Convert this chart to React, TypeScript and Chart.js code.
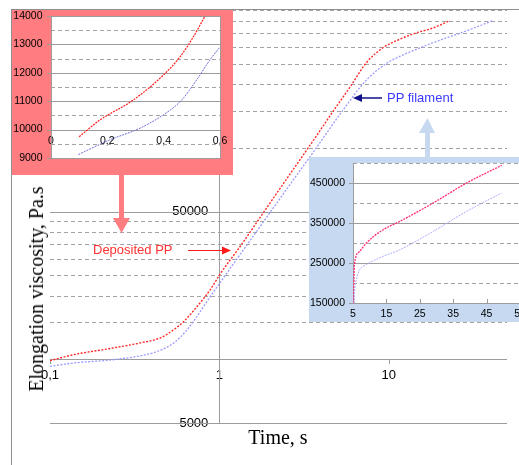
import React, { useEffect, useRef } from 'react';
import { Chart, registerables } from 'chart.js';
Chart.register(...registerables);

// ---------- main chart (log-log) ----------
const mainRedX = [0.1, 0.138, 0.218, 0.342, 0.45, 0.538, 0.616, 0.739, 0.885, 1.014, 1.33, 1.746, 2.29, 3.6, 4.72, 5.93, 7.4, 9.3, 11.7, 14.6, 18.3, 23];
const mainRedY = [9860, 10530, 11200, 11970, 12650, 13820, 15100, 17800, 21400, 25450, 34300, 47100, 64600, 109000, 150000, 195000, 254000, 299000, 328000, 351000, 370000, 401000];
const mainBlueX = [0.1, 0.138, 0.218, 0.342, 0.43, 0.538, 0.645, 0.739, 0.885, 1.085, 1.91, 2.62, 3.6, 5.4, 7.4, 9.74, 11.7, 18.3, 28.9, 41.4];
const mainBlueY = [9260, 9620, 9900, 10400, 10900, 11960, 13800, 16000, 19850, 25000, 47200, 67400, 96000, 152000, 210000, 252000, 272000, 315000, 359000, 401000];
const mainXTicks = [0.1, 1, 10];
const mainYLabels = [5000, 50000];
const mainYMinor = [15000, 20000, 25000, 30000, 35000, 40000, 45000, 100000, 150000, 200000, 250000, 300000, 350000, 400000, 450000];

// ---------- inset 1 (early times, linear) ----------
const in1RedX = [0.1, 0.174, 0.292, 0.399, 0.458, 0.505, 0.547];
const in1RedY = [9750, 10340, 11040, 11920, 12560, 13260, 14000];
const in1BlueX = [0.097, 0.209, 0.316, 0.399, 0.464, 0.517, 0.564, 0.6];
const in1BlueY = [9120, 9640, 10050, 10520, 11040, 11750, 12450, 12910];
const in1XTicks = [0, 0.2, 0.4, 0.6];
const in1YTicks = [9000, 10000, 11000, 12000, 13000, 14000];
const in1YMinor = [9500, 10500, 11500, 12500, 13500];

// ---------- inset 2 (late times, linear) ----------
const in2RedX = [5.2, 5.3, 5.5, 7, 9, 14, 19, 29, 39, 49.5];
const in2RedY = [150000, 216000, 250000, 279000, 300000, 333000, 354000, 400000, 450000, 494000];
const in2BlueX = [5.3, 5.6, 6, 7, 9, 14, 19, 29, 39, 49.5];
const in2BlueY = [150000, 190000, 208000, 233000, 246000, 266500, 283000, 329000, 379000, 425000];
const in2XTicks = [5, 15, 25, 35, 45, 55];
const in2YTicks = [150000, 250000, 350000, 450000];
const in2YMinor = [200000, 300000, 400000, 500000];

const PINK = '#ff7c80';
const LIGHTBLUE = '#c6d9f1';
const GRID_SOLID = '#9c9c9c';
const GRID_DASH = '#a3a3a3';
const SANS = "'Liberation Sans', Arial, sans-serif";
const SERIF = "'Liberation Serif', 'Times New Roman', serif";

const pts = (xs: number[], ys: number[]) => xs.map((x, i) => ({ x, y: ys[i] }));
const fmtComma = (v: number) => String(Math.round(v * 100) / 100).replace('.', ',');
const noPad = (s: any) => { s.paddingTop = 0; s.paddingBottom = 0; s.paddingLeft = 0; s.paddingRight = 0; };

function hLine(ctx: CanvasRenderingContext2D, x1: number, x2: number, y: number) {
  const py = Math.round(y) + 0.5;
  ctx.beginPath(); ctx.moveTo(x1, py); ctx.lineTo(x2, py); ctx.stroke();
}
function vLine(ctx: CanvasRenderingContext2D, x: number, y1: number, y2: number) {
  const px = Math.round(x) + 0.5;
  ctx.beginPath(); ctx.moveTo(px, y1); ctx.lineTo(px, y2); ctx.stroke();
}

const mainPlugin = {
  id: 'mainDeco',
  beforeDatasetsDraw(chart: any) {
    const { ctx, scales } = chart;
    const x = scales.x, y = scales.y;
    const L = x.getPixelForValue(0.1), R = x.getPixelForValue(50);
    ctx.save();
    ctx.lineWidth = 1;
    ctx.strokeStyle = GRID_DASH; ctx.setLineDash([4, 3]);
    mainYMinor.forEach(v => hLine(ctx, L, R, y.getPixelForValue(v)));
    ctx.setLineDash([]); ctx.strokeStyle = GRID_SOLID;
    mainYLabels.forEach(v => hLine(ctx, L, R, y.getPixelForValue(v)));
    const axY = y.getPixelForValue(10000);
    hLine(ctx, L, R, axY);
    mainXTicks.forEach(v => vLine(ctx, x.getPixelForValue(v), Math.round(axY), Math.round(axY) + 5));
    vLine(ctx, x.getPixelForValue(1), y.getPixelForValue(450000), y.getPixelForValue(5000));
    ctx.restore();
  },
  afterDraw(chart: any) {
    const { ctx } = chart;
    ctx.save();
    // chart border (top and left)
    ctx.strokeStyle = '#8f8f8f'; ctx.lineWidth = 1;
    ctx.beginPath(); ctx.moveTo(11, 9.5); ctx.lineTo(519, 9.5); ctx.stroke();
    ctx.beginPath(); ctx.moveTo(11.5, 9); ctx.lineTo(11.5, 465); ctx.stroke();
    // pink arrow (down)
    ctx.fillStyle = PINK;
    ctx.fillRect(119, 174, 5, 45);
    ctx.beginPath(); ctx.moveTo(113, 218); ctx.lineTo(130, 218); ctx.lineTo(121.5, 233); ctx.closePath(); ctx.fill();
    // light blue arrow (up)
    ctx.fillStyle = LIGHTBLUE;
    ctx.fillRect(425, 132, 5, 26);
    ctx.beginPath(); ctx.moveTo(419, 133); ctx.lineTo(435, 133); ctx.lineTo(427.5, 118); ctx.closePath(); ctx.fill();
    // red arrow -> Deposited PP
    ctx.strokeStyle = '#ff1a1a'; ctx.fillStyle = '#ff1a1a'; ctx.lineWidth = 1;
    ctx.beginPath(); ctx.moveTo(188, 250.5); ctx.lineTo(224, 250.5); ctx.stroke();
    ctx.beginPath(); ctx.moveTo(222, 246.5); ctx.lineTo(231, 250.5); ctx.lineTo(222, 254.5); ctx.closePath(); ctx.fill();
    // navy arrow -> PP filament
    ctx.strokeStyle = '#10108a'; ctx.fillStyle = '#10108a'; ctx.lineWidth = 1.5;
    ctx.beginPath(); ctx.moveTo(382, 98); ctx.lineTo(360, 98); ctx.stroke();
    ctx.beginPath(); ctx.moveTo(362, 94); ctx.lineTo(353, 98); ctx.lineTo(362, 102); ctx.closePath(); ctx.fill();
    ctx.restore();
  },
};

function insetPlugin(bg: string, yMajor: number[], yMinor: number[], xEdges: number[], xTickMarks: number[]) {
  return {
    id: 'insetDeco',
    beforeDraw(chart: any) {
      const { ctx, chartArea: ca, width, height } = chart;
      ctx.save();
      ctx.fillStyle = bg; ctx.fillRect(0, 0, width, height);
      ctx.fillStyle = '#ffffff'; ctx.fillRect(ca.left, ca.top, ca.right - ca.left, ca.bottom - ca.top);
      ctx.restore();
    },
    beforeDatasetsDraw(chart: any) {
      const { ctx, scales } = chart;
      const x = scales.x, y = scales.y;
      const L = x.getPixelForValue(x.min), R = x.getPixelForValue(x.max);
      const T = y.getPixelForValue(y.max), B = y.getPixelForValue(y.min);
      ctx.save();
      ctx.lineWidth = 1;
      ctx.strokeStyle = GRID_DASH; ctx.setLineDash([4, 3]);
      yMinor.forEach(v => hLine(ctx, L, R, y.getPixelForValue(v)));
      ctx.setLineDash([]); ctx.strokeStyle = GRID_SOLID;
      yMajor.forEach(v => hLine(ctx, L, R, y.getPixelForValue(v)));
      xEdges.forEach(v => vLine(ctx, x.getPixelForValue(v), T, B));
      yMajor.forEach(v => hLine(ctx, L - 4, L, y.getPixelForValue(v)));
      xTickMarks.forEach(v => vLine(ctx, x.getPixelForValue(v), B - 4, B));
      ctx.restore();
    },
  };
}

const lineDs = (data: any[], color: string, width: number, dash: number[]) => ({
  data, borderColor: color, borderWidth: width, borderDash: dash, pointRadius: 0,
  cubicInterpolationMode: 'monotone', fill: false,
});

export default function App() {
  const mainRef = useRef<HTMLCanvasElement>(null);
  const in1Ref = useRef<HTMLCanvasElement>(null);
  const in2Ref = useRef<HTMLCanvasElement>(null);

  useEffect(() => {
    const charts: Chart[] = [];
    charts.push(new Chart(mainRef.current!, {
      type: 'line',
      data: {
        datasets: [
          lineDs(pts(mainBlueX, mainBlueY), '#9a9aff', 1.3, [2, 1.5]),
          lineDs(pts(mainRedX, mainRedY), '#ff2a2a', 1.4, [2, 1.5]),
        ] as any,
      },
      options: {
        animation: false, responsive: false, maintainAspectRatio: false,
        layout: { padding: { left: 50, top: 10, right: 12, bottom: 42 } },
        plugins: { legend: { display: false }, tooltip: { enabled: false } },
        scales: {
          x: {
            type: 'logarithmic', min: 0.1, max: 50, position: { y: 10000 } as any,
            grid: { display: false, drawTicks: false }, border: { display: false },
            afterBuildTicks: (s: any) => { s.ticks = mainXTicks.map(v => ({ value: v })); },
            afterFit: noPad,
            ticks: { autoSkip: false, maxRotation: 0, padding: 8, color: '#000', font: { family: SANS, size: 13 }, callback: (v: any) => fmtComma(Number(v)) },
          },
          y: {
            type: 'logarithmic', min: 5000, max: 450000, position: { x: 0.861 } as any,
            grid: { display: false, drawTicks: false }, border: { display: false },
            afterBuildTicks: (s: any) => { s.ticks = mainYLabels.map(v => ({ value: v })); },
            afterFit: noPad,
            ticks: { autoSkip: false, padding: 0, color: '#000', font: { family: SANS, size: 13 }, callback: (v: any) => String(v) },
          },
        },
      } as any,
      plugins: [mainPlugin],
    }));

    charts.push(new Chart(in1Ref.current!, {
      type: 'line',
      data: {
        datasets: [
          lineDs(pts(in1BlueX, in1BlueY), '#6f6fd8', 1, [2, 1]),
          lineDs(pts(in1RedX, in1RedY), '#ff1c1c', 1.2, [2, 1]),
        ] as any,
      },
      options: {
        animation: false, responsive: false, maintainAspectRatio: false,
        layout: { padding: { left: 39, top: 6, right: 13, bottom: 17 } },
        plugins: { legend: { display: false }, tooltip: { enabled: false } },
        scales: {
          x: {
            type: 'linear', min: 0, max: 0.6, position: { y: 10000 } as any,
            grid: { display: false, drawTicks: false }, border: { display: false },
            afterBuildTicks: (s: any) => { s.ticks = in1XTicks.map(v => ({ value: v })); },
            afterFit: noPad,
            ticks: { autoSkip: false, maxRotation: 0, padding: 5, color: '#000', font: { family: SANS, size: 10.5 }, callback: (v: any) => fmtComma(Number(v)) },
          },
          y: {
            type: 'linear', min: 9000, max: 14000, position: { x: -0.03 } as any,
            grid: { display: false, drawTicks: false }, border: { display: false },
            afterBuildTicks: (s: any) => { s.ticks = in1YTicks.map(v => ({ value: v })); },
            afterFit: noPad,
            ticks: { autoSkip: false, padding: 0, color: '#000', font: { family: SANS, size: 10.5 }, callback: (v: any) => String(v) },
          },
        },
      } as any,
      plugins: [insetPlugin(PINK, in1YTicks, in1YMinor, [0, 0.6], [])],
    }));

    charts.push(new Chart(in2Ref.current!, {
      type: 'line',
      data: {
        datasets: [
          lineDs(pts(in2BlueX, in2BlueY), '#b0b0ff', 1, [2, 1]),
          lineDs(pts(in2RedX, in2RedY), '#ff2a7a', 1.3, [2, 1]),
        ] as any,
      },
      options: {
        animation: false, responsive: false, maintainAspectRatio: false,
        layout: { padding: { left: 44, top: 6, right: 19, bottom: 19 } },
        plugins: { legend: { display: false }, tooltip: { enabled: false } },
        scales: {
          x: {
            type: 'linear', min: 5, max: 55, position: { y: 150000 } as any,
            grid: { display: false, drawTicks: false }, border: { display: false },
            afterBuildTicks: (s: any) => { s.ticks = in2XTicks.map(v => ({ value: v })); },
            afterFit: noPad,
            ticks: { autoSkip: false, maxRotation: 0, padding: 5, color: '#000', font: { family: SANS, size: 10.5 }, callback: (v: any) => String(v) },
          },
          y: {
            type: 'linear', min: 150000, max: 500000, position: { x: 2.6 } as any,
            grid: { display: false, drawTicks: false }, border: { display: false },
            afterBuildTicks: (s: any) => { s.ticks = in2YTicks.map(v => ({ value: v })); },
            afterFit: noPad,
            ticks: { autoSkip: false, padding: 0, color: '#000', font: { family: SANS, size: 10.5 }, callback: (v: any) => String(v) },
          },
        },
      } as any,
      plugins: [insetPlugin(LIGHTBLUE, in2YTicks, in2YMinor, [5], [15, 25, 35, 45])],
    }));

    return () => charts.forEach(c => c.destroy());
  }, []);

  return (
    <div style={{ position: 'fixed', left: 0, top: 0, width: 519, height: 465, overflow: 'hidden', background: '#fff' }}>
      <canvas ref={mainRef} width={519} height={465} style={{ position: 'absolute', left: 0, top: 0, width: 519, height: 465 }} />
      <canvas ref={in1Ref} width={221} height={165} style={{ position: 'absolute', left: 12, top: 10, width: 221, height: 165 }} />
      <canvas ref={in2Ref} width={230} height={165} style={{ position: 'absolute', left: 309, top: 157, width: 230, height: 165 }} />
      <div style={{ position: 'absolute', left: 93, top: 242, font: `13px ${SANS}`, lineHeight: '16px', color: '#ff3030', whiteSpace: 'nowrap' }}>Deposited PP</div>
      <div style={{ position: 'absolute', left: 387, top: 90, font: `13px ${SANS}`, lineHeight: '16px', color: '#3a3aff', whiteSpace: 'nowrap' }}>PP filament</div>
      <div style={{ position: 'absolute', left: 278, top: 437, transform: 'translate(-50%, -50%)', font: `20px ${SERIF}`, lineHeight: '22px', color: '#000', whiteSpace: 'nowrap' }}>Time, s</div>
      <div style={{ position: 'absolute', left: 36, top: 289, transform: 'translate(-50%, -50%) rotate(-90deg)', font: `20px ${SERIF}`, lineHeight: '22px', color: '#000', whiteSpace: 'nowrap' }}>Elongation viscosity, Pa.s</div>
    </div>
  );
}
